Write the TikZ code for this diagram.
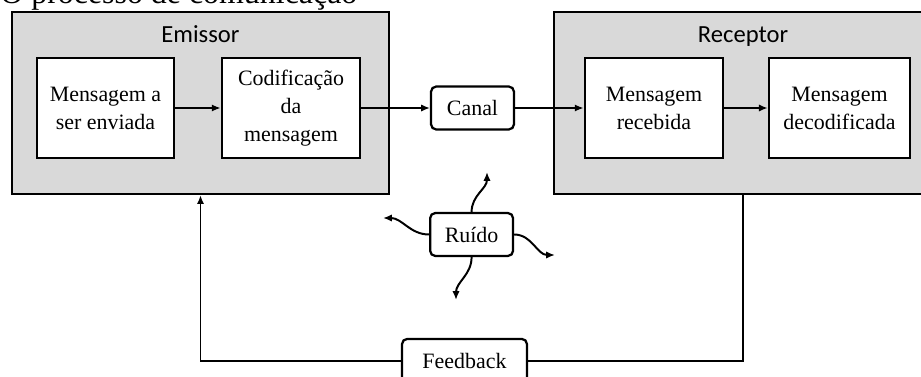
\documentclass[tikz,border=0pt]{standalone}
\usepackage{fontspec}
\setmainfont{Liberation Serif}
\newfontfamily\labelfont{Carlito}
\usetikzlibrary{arrows.meta}
\definecolor{boxgray}{HTML}{D9D9D9}
\begin{document}
\begin{tikzpicture}[>={Latex[length=2.2mm,width=1.8mm]}, every node/.style={font=\fontsize{15.6}{20}\selectfont},
  outer/.style={draw,line width=1.6pt,fill=boxgray,minimum width=9.43cm,minimum height=4.55cm},
  inner/.style={draw,line width=1.9pt,fill=white,minimum height=2.5cm,align=center,inner sep=2pt},
  roundbox/.style={draw,line width=1.6pt,fill=white,rounded corners=3.5pt,minimum height=1.07cm,align=center},
  conn/.style={line width=1.4pt}]
\clip (0,0) rectangle (23.025,9.4);
\node[anchor=base west,inner sep=0pt,font=\fontsize{22.7}{26}\selectfont] (title) at (0,9.31) {O processo de comunicação};
\node[outer] (emissor) at (5.0125,6.825) {};
\node[outer,minimum width=9.45cm] (receptor) at (18.575,6.825) {};
\node[anchor=base,font=\labelfont\fontsize{17.5}{20}\selectfont] (emlab) at (5.0125,8.33) {Emissor};
\node[anchor=base,font=\labelfont\fontsize{17.5}{20}\selectfont] (reclab) at (18.575,8.33) {Receptor};
\node[inner,minimum width=3.43cm] (msg) at (2.6375,6.7) {Mensagem a\\ser enviada};
\node[inner,minimum width=3.45cm] (cod) at (7.275,6.7) {Codificação\\da\\mensagem};
\node[roundbox,minimum width=2.07cm] (canal) at (11.8125,6.7) {Canal};
\node[inner,minimum width=3.45cm] (rec) at (16.35,6.7) {Mensagem\\recebida};
\node[inner,minimum width=3.52cm] (dec) at (20.9875,6.7) {Mensagem\\decodificada};
\node[roundbox,minimum width=2.07cm] (noise) at (11.79,3.5375) {Ruído};
\node[roundbox,minimum width=3.12cm,minimum height=1.1cm] (fb) at (11.6125,0.375) {Feedback};
\draw[conn,->] (msg) -- (cod);
\draw[conn,->] (cod) -- (canal);
\draw[conn,->] (canal) -- (rec);
\draw[conn,->] (rec) -- (dec);
% noise
\coordinate (nup) at (12.175,5.1);
\coordinate (nleft) at (9.575,3.95);
\coordinate (nright) at (13.875,3.025);
\coordinate (ndown) at (11.4,1.9);
\draw[conn,->] (noise.north) to[out=90,in=-90] (nup);
\draw[conn,->] (noise.west) to[out=180,in=0] (nleft);
\draw[conn,->] (noise.east) to[out=0,in=180] (nright);
\draw[conn,->] (noise.south) to[out=-90,in=90] (ndown);
% feedback
\draw[conn,->] (fb.west) -| (emissor.south);
\draw[conn] (receptor.south) |- (fb.east);
\end{tikzpicture}
\end{document}
